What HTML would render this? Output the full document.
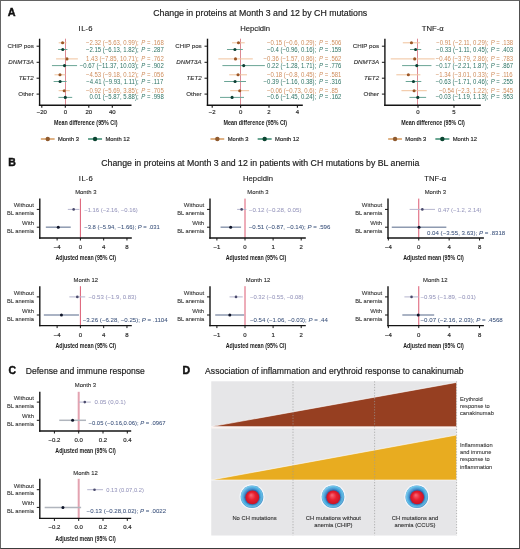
<!DOCTYPE html>
<html><head><meta charset="utf-8"><style>
html,body{margin:0;padding:0;background:#fff;}
#f{position:relative;width:520px;height:549px;overflow:hidden;background:#fff;}
#f svg{position:absolute;left:0;top:0;will-change:transform;font-family:"Liberation Sans", sans-serif;}
#bd{position:absolute;left:0;top:0;width:518px;height:547px;border:1px solid #666;border-top-color:#626262;border-right-color:#505050;border-bottom-color:#3c3c3c;}
</style></head><body><div id="f">
<svg width="520" height="549" viewBox="0 0 520 549">
<text x="7.80" y="15.80" font-size="10.8" fill="#111" font-weight="bold" stroke="#111" stroke-width="0.45">A</text>
<text x="153.20" y="15.70" font-size="9.4" fill="#1a1a1a" textLength="214.00" lengthAdjust="spacingAndGlyphs" stroke="#1a1a1a" stroke-width="0.18">Change in proteins at Month 3 and 12 by CH mutations</text>
<text x="85.55" y="30.60" font-size="7.7" text-anchor="middle" fill="#1a1a1a" stroke="#1a1a1a" stroke-width="0.12">I<tspan dx="0.6">L-6</tspan></text>
<line x1="65.50" y1="38.70" x2="65.50" y2="105.20" stroke="#dc8a93" stroke-width="1.0"/>
<line x1="39.60" y1="38.70" x2="39.60" y2="105.90" stroke="#141414" stroke-width="1.4"/>
<line x1="38.90" y1="105.20" x2="131.50" y2="105.20" stroke="#141414" stroke-width="1.4"/>
<line x1="36.60" y1="46.20" x2="39.60" y2="46.20" stroke="#141414" stroke-width="1"/>
<text x="33.80" y="48.00" font-size="6.2" text-anchor="end" fill="#303030" stroke="#303030" stroke-width="0.12">CHIP pos</text>
<line x1="36.60" y1="62.30" x2="39.60" y2="62.30" stroke="#141414" stroke-width="1"/>
<text x="33.80" y="64.10" font-size="6.2" text-anchor="end" fill="#303030" font-style="italic" stroke="#303030" stroke-width="0.12">DNMT3A</text>
<line x1="36.60" y1="78.20" x2="39.60" y2="78.20" stroke="#141414" stroke-width="1"/>
<text x="33.80" y="80.00" font-size="6.2" text-anchor="end" fill="#303030" font-style="italic" stroke="#303030" stroke-width="0.12">TET2</text>
<line x1="36.60" y1="94.10" x2="39.60" y2="94.10" stroke="#141414" stroke-width="1"/>
<text x="33.80" y="95.90" font-size="6.2" text-anchor="end" fill="#303030" stroke="#303030" stroke-width="0.12">Other</text>
<line x1="41.80" y1="105.20" x2="41.80" y2="107.80" stroke="#141414" stroke-width="1.1"/>
<text x="41.80" y="114.20" font-size="6.0" text-anchor="middle" fill="#2a2a2a" stroke="#2a2a2a" stroke-width="0.18">−20</text>
<line x1="65.30" y1="105.20" x2="65.30" y2="107.80" stroke="#141414" stroke-width="1.1"/>
<text x="65.30" y="114.20" font-size="6.0" text-anchor="middle" fill="#2a2a2a" stroke="#2a2a2a" stroke-width="0.18">0</text>
<line x1="88.80" y1="105.20" x2="88.80" y2="107.80" stroke="#141414" stroke-width="1.1"/>
<text x="88.80" y="114.20" font-size="6.0" text-anchor="middle" fill="#2a2a2a" stroke="#2a2a2a" stroke-width="0.18">20</text>
<line x1="112.30" y1="105.20" x2="112.30" y2="107.80" stroke="#141414" stroke-width="1.1"/>
<text x="112.30" y="114.20" font-size="6.0" text-anchor="middle" fill="#2a2a2a" stroke="#2a2a2a" stroke-width="0.18">40</text>
<text x="85.75" y="124.80" font-size="7.4" text-anchor="middle" fill="#1a1a1a" font-weight="bold" textLength="63.60" lengthAdjust="spacingAndGlyphs">Mean difference (95% CI)</text>
<line x1="58.68" y1="42.80" x2="66.46" y2="42.80" stroke="#f0c29c" stroke-width="1.0"/>
<circle cx="62.57" cy="42.80" r="1.55" fill="#9c5626"/>
<text x="138.60" y="44.80" font-size="6.6" text-anchor="end" fill="#cf8d5c" textLength="52.71" lengthAdjust="spacingAndGlyphs">−2.32 (−5.63, 0.99);</text>
<text x="141.30" y="44.80" font-size="6.6" fill="#cf8d5c" textLength="22.41" lengthAdjust="spacingAndGlyphs"><tspan font-style="italic">P</tspan> = .168</text>
<line x1="58.10" y1="49.50" x2="67.44" y2="49.50" stroke="#6aa596" stroke-width="1.0"/>
<circle cx="62.77" cy="49.50" r="1.55" fill="#0b3f33"/>
<text x="138.60" y="51.50" font-size="6.6" text-anchor="end" fill="#2e7465" textLength="52.71" lengthAdjust="spacingAndGlyphs">−2.15 (−6.13, 1.82);</text>
<text x="141.30" y="51.50" font-size="6.6" fill="#2e7465" textLength="22.41" lengthAdjust="spacingAndGlyphs"><tspan font-style="italic">P</tspan> = .287</text>
<line x1="56.08" y1="58.90" x2="77.88" y2="58.90" stroke="#f0c29c" stroke-width="1.0"/>
<circle cx="66.98" cy="58.90" r="1.55" fill="#9c5626"/>
<text x="138.60" y="60.90" font-size="6.6" text-anchor="end" fill="#cf8d5c" textLength="52.54" lengthAdjust="spacingAndGlyphs">1.43 (−7.85, 10.71);</text>
<text x="141.30" y="60.90" font-size="6.6" fill="#cf8d5c" textLength="22.41" lengthAdjust="spacingAndGlyphs"><tspan font-style="italic">P</tspan> = .762</text>
<line x1="51.94" y1="65.60" x2="77.09" y2="65.60" stroke="#6aa596" stroke-width="1.0"/>
<circle cx="64.51" cy="65.60" r="1.55" fill="#0b3f33"/>
<text x="138.60" y="67.60" font-size="6.6" text-anchor="end" fill="#2e7465" textLength="58.93" lengthAdjust="spacingAndGlyphs">−0.67 (−11.37, 10.03);</text>
<text x="141.30" y="67.60" font-size="6.6" fill="#2e7465" textLength="22.41" lengthAdjust="spacingAndGlyphs"><tspan font-style="italic">P</tspan> = .902</text>
<line x1="54.51" y1="74.80" x2="65.44" y2="74.80" stroke="#f0c29c" stroke-width="1.0"/>
<circle cx="59.98" cy="74.80" r="1.55" fill="#9c5626"/>
<text x="138.60" y="76.80" font-size="6.6" text-anchor="end" fill="#cf8d5c" textLength="52.71" lengthAdjust="spacingAndGlyphs">−4.53 (−9.18, 0.12);</text>
<text x="141.30" y="76.80" font-size="6.6" fill="#cf8d5c" textLength="22.41" lengthAdjust="spacingAndGlyphs"><tspan font-style="italic">P</tspan> = .056</text>
<line x1="53.63" y1="81.50" x2="66.60" y2="81.50" stroke="#6aa596" stroke-width="1.0"/>
<circle cx="60.12" cy="81.50" r="1.55" fill="#0b3f33"/>
<text x="138.60" y="83.50" font-size="6.6" text-anchor="end" fill="#2e7465" textLength="52.26" lengthAdjust="spacingAndGlyphs">−4.41 (−9.93, 1.11);</text>
<text x="141.30" y="83.50" font-size="6.6" fill="#2e7465" textLength="21.96" lengthAdjust="spacingAndGlyphs"><tspan font-style="italic">P</tspan> = .117</text>
<line x1="58.61" y1="90.70" x2="69.82" y2="90.70" stroke="#f0c29c" stroke-width="1.0"/>
<circle cx="64.22" cy="90.70" r="1.55" fill="#9c5626"/>
<text x="138.60" y="92.70" font-size="6.6" text-anchor="end" fill="#cf8d5c" textLength="52.71" lengthAdjust="spacingAndGlyphs">−0.92 (−5.69, 3.85);</text>
<text x="141.30" y="92.70" font-size="6.6" fill="#cf8d5c" textLength="22.41" lengthAdjust="spacingAndGlyphs"><tspan font-style="italic">P</tspan> = .705</text>
<line x1="58.40" y1="97.40" x2="72.21" y2="97.40" stroke="#6aa596" stroke-width="1.0"/>
<circle cx="65.31" cy="97.40" r="1.55" fill="#0b3f33"/>
<text x="138.60" y="99.40" font-size="6.6" text-anchor="end" fill="#2e7465" textLength="49.20" lengthAdjust="spacingAndGlyphs">0.01 (−5.87, 5.88);</text>
<text x="141.30" y="99.40" font-size="6.6" fill="#2e7465" textLength="22.41" lengthAdjust="spacingAndGlyphs"><tspan font-style="italic">P</tspan> = .998</text>
<line x1="40.85" y1="139.00" x2="54.65" y2="139.00" stroke="#dcaa78" stroke-width="1.8"/>
<circle cx="47.75" cy="139.00" r="2.2" fill="#8f5a2e"/>
<text x="58.05" y="141.10" font-size="5.8" fill="#2a2a2a" textLength="20.90" lengthAdjust="spacingAndGlyphs" stroke="#2a2a2a" stroke-width="0.18">Month 3</text>
<line x1="88.05" y1="139.00" x2="102.05" y2="139.00" stroke="#5a9c86" stroke-width="1.8"/>
<circle cx="95.05" cy="139.00" r="2.2" fill="#0b4531"/>
<text x="105.45" y="141.10" font-size="5.8" fill="#2a2a2a" textLength="24.30" lengthAdjust="spacingAndGlyphs" stroke="#2a2a2a" stroke-width="0.18">Month 12</text>
<text x="255.15" y="30.60" font-size="7.7" text-anchor="middle" fill="#1a1a1a" stroke="#1a1a1a" stroke-width="0.12">Hepcidin</text>
<line x1="240.50" y1="38.70" x2="240.50" y2="105.20" stroke="#dc8a93" stroke-width="1.0"/>
<line x1="207.50" y1="38.70" x2="207.50" y2="105.90" stroke="#141414" stroke-width="1.4"/>
<line x1="206.80" y1="105.20" x2="302.80" y2="105.20" stroke="#141414" stroke-width="1.4"/>
<line x1="204.50" y1="46.20" x2="207.50" y2="46.20" stroke="#141414" stroke-width="1"/>
<text x="201.70" y="48.00" font-size="6.2" text-anchor="end" fill="#303030" stroke="#303030" stroke-width="0.12">CHIP pos</text>
<line x1="204.50" y1="62.30" x2="207.50" y2="62.30" stroke="#141414" stroke-width="1"/>
<text x="201.70" y="64.10" font-size="6.2" text-anchor="end" fill="#303030" font-style="italic" stroke="#303030" stroke-width="0.12">DNMT3A</text>
<line x1="204.50" y1="78.20" x2="207.50" y2="78.20" stroke="#141414" stroke-width="1"/>
<text x="201.70" y="80.00" font-size="6.2" text-anchor="end" fill="#303030" font-style="italic" stroke="#303030" stroke-width="0.12">TET2</text>
<line x1="204.50" y1="94.10" x2="207.50" y2="94.10" stroke="#141414" stroke-width="1"/>
<text x="201.70" y="95.90" font-size="6.2" text-anchor="end" fill="#303030" stroke="#303030" stroke-width="0.12">Other</text>
<line x1="212.20" y1="105.20" x2="212.20" y2="107.80" stroke="#141414" stroke-width="1.1"/>
<text x="212.20" y="114.20" font-size="6.0" text-anchor="middle" fill="#2a2a2a" stroke="#2a2a2a" stroke-width="0.18">−2</text>
<line x1="240.60" y1="105.20" x2="240.60" y2="107.80" stroke="#141414" stroke-width="1.1"/>
<text x="240.60" y="114.20" font-size="6.0" text-anchor="middle" fill="#2a2a2a" stroke="#2a2a2a" stroke-width="0.18">0</text>
<line x1="269.00" y1="105.20" x2="269.00" y2="107.80" stroke="#141414" stroke-width="1.1"/>
<text x="269.00" y="114.20" font-size="6.0" text-anchor="middle" fill="#2a2a2a" stroke="#2a2a2a" stroke-width="0.18">2</text>
<line x1="297.40" y1="105.20" x2="297.40" y2="107.80" stroke="#141414" stroke-width="1.1"/>
<text x="297.40" y="114.20" font-size="6.0" text-anchor="middle" fill="#2a2a2a" stroke="#2a2a2a" stroke-width="0.18">4</text>
<text x="255.35" y="124.80" font-size="7.4" text-anchor="middle" fill="#1a1a1a" font-weight="bold" textLength="63.60" lengthAdjust="spacingAndGlyphs">Mean difference (95% CI)</text>
<line x1="232.08" y1="42.80" x2="244.72" y2="42.80" stroke="#f0c29c" stroke-width="1.0"/>
<circle cx="238.47" cy="42.80" r="1.55" fill="#9c5626"/>
<text x="316.30" y="44.80" font-size="6.6" text-anchor="end" fill="#cf8d5c" textLength="49.37" lengthAdjust="spacingAndGlyphs">−0.15 (−0.6, 0.29);</text>
<text x="319.00" y="44.80" font-size="6.6" fill="#cf8d5c" textLength="22.41" lengthAdjust="spacingAndGlyphs"><tspan font-style="italic">P</tspan> = .506</text>
<line x1="226.97" y1="49.50" x2="242.87" y2="49.50" stroke="#6aa596" stroke-width="1.0"/>
<circle cx="234.92" cy="49.50" r="1.55" fill="#0b3f33"/>
<text x="316.30" y="51.50" font-size="6.6" text-anchor="end" fill="#2e7465" textLength="49.37" lengthAdjust="spacingAndGlyphs">−0.4 (−0.96, 0.16);</text>
<text x="319.00" y="51.50" font-size="6.6" fill="#2e7465" textLength="22.41" lengthAdjust="spacingAndGlyphs"><tspan font-style="italic">P</tspan> = .159</text>
<line x1="218.31" y1="58.90" x2="252.81" y2="58.90" stroke="#f0c29c" stroke-width="1.0"/>
<circle cx="235.49" cy="58.90" r="1.55" fill="#9c5626"/>
<text x="316.30" y="60.90" font-size="6.6" text-anchor="end" fill="#cf8d5c" textLength="52.71" lengthAdjust="spacingAndGlyphs">−0.36 (−1.57, 0.86);</text>
<text x="319.00" y="60.90" font-size="6.6" fill="#cf8d5c" textLength="22.41" lengthAdjust="spacingAndGlyphs"><tspan font-style="italic">P</tspan> = .562</text>
<line x1="222.42" y1="65.60" x2="264.88" y2="65.60" stroke="#6aa596" stroke-width="1.0"/>
<circle cx="243.72" cy="65.60" r="1.55" fill="#0b3f33"/>
<text x="316.30" y="67.60" font-size="6.6" text-anchor="end" fill="#2e7465" textLength="49.20" lengthAdjust="spacingAndGlyphs">0.22 (−1.28, 1.71);</text>
<text x="319.00" y="67.60" font-size="6.6" fill="#2e7465" textLength="22.41" lengthAdjust="spacingAndGlyphs"><tspan font-style="italic">P</tspan> = .776</text>
<line x1="229.24" y1="74.80" x2="246.99" y2="74.80" stroke="#f0c29c" stroke-width="1.0"/>
<circle cx="238.04" cy="74.80" r="1.55" fill="#9c5626"/>
<text x="316.30" y="76.80" font-size="6.6" text-anchor="end" fill="#cf8d5c" textLength="49.37" lengthAdjust="spacingAndGlyphs">−0.18 (−0.8, 0.45);</text>
<text x="319.00" y="76.80" font-size="6.6" fill="#cf8d5c" textLength="22.41" lengthAdjust="spacingAndGlyphs"><tspan font-style="italic">P</tspan> = .581</text>
<line x1="224.13" y1="81.50" x2="246.00" y2="81.50" stroke="#6aa596" stroke-width="1.0"/>
<circle cx="235.06" cy="81.50" r="1.55" fill="#0b3f33"/>
<text x="316.30" y="83.50" font-size="6.6" text-anchor="end" fill="#2e7465" textLength="52.71" lengthAdjust="spacingAndGlyphs">−0.39 (−1.16, 0.38);</text>
<text x="319.00" y="83.50" font-size="6.6" fill="#2e7465" textLength="22.41" lengthAdjust="spacingAndGlyphs"><tspan font-style="italic">P</tspan> = .316</text>
<line x1="230.23" y1="90.70" x2="249.12" y2="90.70" stroke="#f0c29c" stroke-width="1.0"/>
<circle cx="239.75" cy="90.70" r="1.55" fill="#9c5626"/>
<text x="316.30" y="92.70" font-size="6.6" text-anchor="end" fill="#cf8d5c" textLength="49.37" lengthAdjust="spacingAndGlyphs">−0.06 (−0.73, 0.6);</text>
<text x="319.00" y="92.70" font-size="6.6" fill="#cf8d5c" textLength="19.07" lengthAdjust="spacingAndGlyphs"><tspan font-style="italic">P</tspan> = .85</text>
<line x1="220.01" y1="97.40" x2="244.01" y2="97.40" stroke="#6aa596" stroke-width="1.0"/>
<circle cx="232.08" cy="97.40" r="1.55" fill="#0b3f33"/>
<text x="316.30" y="99.40" font-size="6.6" text-anchor="end" fill="#2e7465" textLength="49.37" lengthAdjust="spacingAndGlyphs">−0.6 (−1.45, 0.24);</text>
<text x="319.00" y="99.40" font-size="6.6" fill="#2e7465" textLength="22.41" lengthAdjust="spacingAndGlyphs"><tspan font-style="italic">P</tspan> = .162</text>
<line x1="210.45" y1="139.00" x2="224.25" y2="139.00" stroke="#dcaa78" stroke-width="1.8"/>
<circle cx="217.35" cy="139.00" r="2.2" fill="#8f5a2e"/>
<text x="227.65" y="141.10" font-size="5.8" fill="#2a2a2a" textLength="20.90" lengthAdjust="spacingAndGlyphs" stroke="#2a2a2a" stroke-width="0.18">Month 3</text>
<line x1="257.65" y1="139.00" x2="271.65" y2="139.00" stroke="#5a9c86" stroke-width="1.8"/>
<circle cx="264.65" cy="139.00" r="2.2" fill="#0b4531"/>
<text x="275.05" y="141.10" font-size="5.8" fill="#2a2a2a" textLength="24.30" lengthAdjust="spacingAndGlyphs" stroke="#2a2a2a" stroke-width="0.18">Month 12</text>
<text x="432.85" y="30.60" font-size="7.7" text-anchor="middle" fill="#1a1a1a" stroke="#1a1a1a" stroke-width="0.12">TNF-α</text>
<line x1="417.50" y1="38.70" x2="417.50" y2="105.20" stroke="#dc8a93" stroke-width="1.0"/>
<line x1="384.90" y1="38.70" x2="384.90" y2="105.90" stroke="#141414" stroke-width="1.4"/>
<line x1="384.20" y1="105.20" x2="480.80" y2="105.20" stroke="#141414" stroke-width="1.4"/>
<line x1="381.90" y1="46.20" x2="384.90" y2="46.20" stroke="#141414" stroke-width="1"/>
<text x="379.10" y="48.00" font-size="6.2" text-anchor="end" fill="#303030" stroke="#303030" stroke-width="0.12">CHIP pos</text>
<line x1="381.90" y1="62.30" x2="384.90" y2="62.30" stroke="#141414" stroke-width="1"/>
<text x="379.10" y="64.10" font-size="6.2" text-anchor="end" fill="#303030" font-style="italic" stroke="#303030" stroke-width="0.12">DNMT3A</text>
<line x1="381.90" y1="78.20" x2="384.90" y2="78.20" stroke="#141414" stroke-width="1"/>
<text x="379.10" y="80.00" font-size="6.2" text-anchor="end" fill="#303030" font-style="italic" stroke="#303030" stroke-width="0.12">TET2</text>
<line x1="381.90" y1="94.10" x2="384.90" y2="94.10" stroke="#141414" stroke-width="1"/>
<text x="379.10" y="95.90" font-size="6.2" text-anchor="end" fill="#303030" stroke="#303030" stroke-width="0.12">Other</text>
<line x1="418.00" y1="105.20" x2="418.00" y2="107.80" stroke="#141414" stroke-width="1.1"/>
<text x="418.00" y="114.20" font-size="6.0" text-anchor="middle" fill="#2a2a2a" stroke="#2a2a2a" stroke-width="0.18">0</text>
<line x1="454.00" y1="105.20" x2="454.00" y2="107.80" stroke="#141414" stroke-width="1.1"/>
<text x="454.00" y="114.20" font-size="6.0" text-anchor="middle" fill="#2a2a2a" stroke="#2a2a2a" stroke-width="0.18">5</text>
<text x="433.05" y="124.80" font-size="7.4" text-anchor="middle" fill="#1a1a1a" font-weight="bold" textLength="63.60" lengthAdjust="spacingAndGlyphs">Mean difference (95% CI)</text>
<line x1="402.81" y1="42.80" x2="420.09" y2="42.80" stroke="#f0c29c" stroke-width="1.0"/>
<circle cx="411.45" cy="42.80" r="1.55" fill="#9c5626"/>
<text x="488.40" y="44.80" font-size="6.6" text-anchor="end" fill="#cf8d5c" textLength="52.26" lengthAdjust="spacingAndGlyphs">−0.91 (−2.11, 0.29);</text>
<text x="490.70" y="44.80" font-size="6.6" fill="#cf8d5c" textLength="22.41" lengthAdjust="spacingAndGlyphs"><tspan font-style="italic">P</tspan> = .138</text>
<line x1="410.01" y1="49.50" x2="421.24" y2="49.50" stroke="#6aa596" stroke-width="1.0"/>
<circle cx="415.62" cy="49.50" r="1.55" fill="#0b3f33"/>
<text x="488.40" y="51.50" font-size="6.6" text-anchor="end" fill="#2e7465" textLength="52.26" lengthAdjust="spacingAndGlyphs">−0.33 (−1.11, 0.45);</text>
<text x="490.70" y="51.50" font-size="6.6" fill="#2e7465" textLength="22.41" lengthAdjust="spacingAndGlyphs"><tspan font-style="italic">P</tspan> = .403</text>
<line x1="390.71" y1="58.90" x2="434.69" y2="58.90" stroke="#f0c29c" stroke-width="1.0"/>
<circle cx="414.69" cy="58.90" r="1.55" fill="#9c5626"/>
<text x="488.40" y="60.90" font-size="6.6" text-anchor="end" fill="#cf8d5c" textLength="52.71" lengthAdjust="spacingAndGlyphs">−0.46 (−3.79, 2.86);</text>
<text x="490.70" y="60.90" font-size="6.6" fill="#cf8d5c" textLength="22.41" lengthAdjust="spacingAndGlyphs"><tspan font-style="italic">P</tspan> = .783</text>
<line x1="402.09" y1="65.60" x2="431.46" y2="65.60" stroke="#6aa596" stroke-width="1.0"/>
<circle cx="416.78" cy="65.60" r="1.55" fill="#0b3f33"/>
<text x="488.40" y="67.60" font-size="6.6" text-anchor="end" fill="#2e7465" textLength="52.71" lengthAdjust="spacingAndGlyphs">−0.17 (−2.21, 1.87);</text>
<text x="490.70" y="67.60" font-size="6.6" fill="#2e7465" textLength="22.41" lengthAdjust="spacingAndGlyphs"><tspan font-style="italic">P</tspan> = .867</text>
<line x1="396.33" y1="74.80" x2="420.38" y2="74.80" stroke="#f0c29c" stroke-width="1.0"/>
<circle cx="408.35" cy="74.80" r="1.55" fill="#9c5626"/>
<text x="488.40" y="76.80" font-size="6.6" text-anchor="end" fill="#cf8d5c" textLength="52.71" lengthAdjust="spacingAndGlyphs">−1.34 (−3.01, 0.33);</text>
<text x="490.70" y="76.80" font-size="6.6" fill="#cf8d5c" textLength="21.96" lengthAdjust="spacingAndGlyphs"><tspan font-style="italic">P</tspan> = .116</text>
<line x1="405.69" y1="81.50" x2="421.31" y2="81.50" stroke="#6aa596" stroke-width="1.0"/>
<circle cx="413.46" cy="81.50" r="1.55" fill="#0b3f33"/>
<text x="488.40" y="83.50" font-size="6.6" text-anchor="end" fill="#2e7465" textLength="52.71" lengthAdjust="spacingAndGlyphs">−0.63 (−1.71, 0.46);</text>
<text x="490.70" y="83.50" font-size="6.6" fill="#2e7465" textLength="22.41" lengthAdjust="spacingAndGlyphs"><tspan font-style="italic">P</tspan> = .255</text>
<line x1="401.44" y1="90.70" x2="426.78" y2="90.70" stroke="#f0c29c" stroke-width="1.0"/>
<circle cx="414.11" cy="90.70" r="1.55" fill="#9c5626"/>
<text x="488.40" y="92.70" font-size="6.6" text-anchor="end" fill="#cf8d5c" textLength="49.37" lengthAdjust="spacingAndGlyphs">−0.54 (−2.3, 1.22);</text>
<text x="490.70" y="92.70" font-size="6.6" fill="#cf8d5c" textLength="22.41" lengthAdjust="spacingAndGlyphs"><tspan font-style="italic">P</tspan> = .545</text>
<line x1="409.43" y1="97.40" x2="426.14" y2="97.40" stroke="#6aa596" stroke-width="1.0"/>
<circle cx="417.78" cy="97.40" r="1.55" fill="#0b3f33"/>
<text x="488.40" y="99.40" font-size="6.6" text-anchor="end" fill="#2e7465" textLength="52.71" lengthAdjust="spacingAndGlyphs">−0.03 (−1.19, 1.13);</text>
<text x="490.70" y="99.40" font-size="6.6" fill="#2e7465" textLength="22.41" lengthAdjust="spacingAndGlyphs"><tspan font-style="italic">P</tspan> = .953</text>
<line x1="388.15" y1="139.00" x2="401.95" y2="139.00" stroke="#dcaa78" stroke-width="1.8"/>
<circle cx="395.05" cy="139.00" r="2.2" fill="#8f5a2e"/>
<text x="405.35" y="141.10" font-size="5.8" fill="#2a2a2a" textLength="20.90" lengthAdjust="spacingAndGlyphs" stroke="#2a2a2a" stroke-width="0.18">Month 3</text>
<line x1="435.35" y1="139.00" x2="449.35" y2="139.00" stroke="#5a9c86" stroke-width="1.8"/>
<circle cx="442.35" cy="139.00" r="2.2" fill="#0b4531"/>
<text x="452.75" y="141.10" font-size="5.8" fill="#2a2a2a" textLength="24.30" lengthAdjust="spacingAndGlyphs" stroke="#2a2a2a" stroke-width="0.18">Month 12</text>
<text x="8.30" y="166.30" font-size="10.5" fill="#111" font-weight="bold" stroke="#111" stroke-width="0.45">B</text>
<text x="101.30" y="166.30" font-size="9.4" fill="#1a1a1a" textLength="318.00" lengthAdjust="spacingAndGlyphs" stroke="#1a1a1a" stroke-width="0.18">Change in proteins at Month 3 and 12 in patients with CH mutations by BL anemia</text>
<text x="85.80" y="181.30" font-size="7.7" text-anchor="middle" fill="#1a1a1a" stroke="#1a1a1a" stroke-width="0.12">I<tspan dx="0.6">L-6</tspan></text>
<text x="85.80" y="194.20" font-size="5.9" text-anchor="middle" fill="#2a2a2a" stroke="#2a2a2a" stroke-width="0.1">Month 3</text>
<line x1="80.40" y1="198.60" x2="80.40" y2="238.00" stroke="#dc5a72" stroke-width="1.0"/>
<line x1="39.80" y1="198.60" x2="39.80" y2="238.70" stroke="#141414" stroke-width="1.4"/>
<line x1="39.10" y1="238.00" x2="131.80" y2="238.00" stroke="#141414" stroke-width="1.4"/>
<line x1="36.80" y1="209.40" x2="39.80" y2="209.40" stroke="#141414" stroke-width="1"/>
<line x1="36.80" y1="227.20" x2="39.80" y2="227.20" stroke="#141414" stroke-width="1"/>
<text x="34.00" y="207.40" font-size="6.0" text-anchor="end" fill="#353535" stroke="#353535" stroke-width="0.1">Without</text>
<text x="34.00" y="215.00" font-size="6.0" text-anchor="end" fill="#353535" textLength="27.00" lengthAdjust="spacingAndGlyphs" stroke="#353535" stroke-width="0.1">BL anemia</text>
<text x="34.00" y="225.20" font-size="6.0" text-anchor="end" fill="#353535" stroke="#353535" stroke-width="0.1">With</text>
<text x="34.00" y="232.80" font-size="6.0" text-anchor="end" fill="#353535" textLength="27.00" lengthAdjust="spacingAndGlyphs" stroke="#353535" stroke-width="0.1">BL anemia</text>
<line x1="57.12" y1="238.00" x2="57.12" y2="240.50" stroke="#141414" stroke-width="1"/>
<text x="57.12" y="249.00" font-size="6.0" text-anchor="middle" fill="#2a2a2a" stroke="#2a2a2a" stroke-width="0.18">−4</text>
<line x1="80.40" y1="238.00" x2="80.40" y2="240.50" stroke="#141414" stroke-width="1"/>
<text x="80.40" y="249.00" font-size="6.0" text-anchor="middle" fill="#2a2a2a" stroke="#2a2a2a" stroke-width="0.18">0</text>
<line x1="103.68" y1="238.00" x2="103.68" y2="240.50" stroke="#141414" stroke-width="1"/>
<text x="103.68" y="249.00" font-size="6.0" text-anchor="middle" fill="#2a2a2a" stroke="#2a2a2a" stroke-width="0.18">4</text>
<line x1="126.96" y1="238.00" x2="126.96" y2="240.50" stroke="#141414" stroke-width="1"/>
<text x="126.96" y="249.00" font-size="6.0" text-anchor="middle" fill="#2a2a2a" stroke="#2a2a2a" stroke-width="0.18">8</text>
<line x1="67.83" y1="209.40" x2="79.47" y2="209.40" stroke="#b6b6ce" stroke-width="1.0"/>
<circle cx="73.65" cy="209.40" r="1.3" fill="#4a4a6c"/>
<text x="84.20" y="211.50" font-size="5.9" fill="#9696bc" stroke="#9696bc" stroke-width="0.05">−1.16 (−2.16, −0.16)</text>
<line x1="45.83" y1="227.20" x2="70.74" y2="227.20" stroke="#8e9ab0" stroke-width="1.5"/>
<circle cx="58.28" cy="227.20" r="1.5" fill="#0e1428"/>
<text x="84.20" y="229.30" font-size="5.9" fill="#39507a" stroke="#39507a" stroke-width="0.05">−3.8 (−5.94, −1.66); <tspan font-style="italic">P</tspan> = .031</text>
<text x="85.80" y="260.20" font-size="7.4" text-anchor="middle" fill="#1a1a1a" font-weight="bold" textLength="60.60" lengthAdjust="spacingAndGlyphs">Adjusted mean (95% CI)</text>
<text x="85.80" y="282.30" font-size="5.9" text-anchor="middle" fill="#2a2a2a" stroke="#2a2a2a" stroke-width="0.1">Month 12</text>
<line x1="80.40" y1="286.20" x2="80.40" y2="325.60" stroke="#dc5a72" stroke-width="1.0"/>
<line x1="39.80" y1="286.20" x2="39.80" y2="326.30" stroke="#141414" stroke-width="1.4"/>
<line x1="39.10" y1="325.60" x2="131.80" y2="325.60" stroke="#141414" stroke-width="1.4"/>
<line x1="36.80" y1="296.90" x2="39.80" y2="296.90" stroke="#141414" stroke-width="1"/>
<line x1="36.80" y1="315.00" x2="39.80" y2="315.00" stroke="#141414" stroke-width="1"/>
<text x="34.00" y="294.90" font-size="6.0" text-anchor="end" fill="#353535" stroke="#353535" stroke-width="0.1">Without</text>
<text x="34.00" y="302.50" font-size="6.0" text-anchor="end" fill="#353535" textLength="27.00" lengthAdjust="spacingAndGlyphs" stroke="#353535" stroke-width="0.1">BL anemia</text>
<text x="34.00" y="313.00" font-size="6.0" text-anchor="end" fill="#353535" stroke="#353535" stroke-width="0.1">With</text>
<text x="34.00" y="320.60" font-size="6.0" text-anchor="end" fill="#353535" textLength="27.00" lengthAdjust="spacingAndGlyphs" stroke="#353535" stroke-width="0.1">BL anemia</text>
<line x1="57.12" y1="325.60" x2="57.12" y2="328.10" stroke="#141414" stroke-width="1"/>
<text x="57.12" y="336.60" font-size="6.0" text-anchor="middle" fill="#2a2a2a" stroke="#2a2a2a" stroke-width="0.18">−4</text>
<line x1="80.40" y1="325.60" x2="80.40" y2="328.10" stroke="#141414" stroke-width="1"/>
<text x="80.40" y="336.60" font-size="6.0" text-anchor="middle" fill="#2a2a2a" stroke="#2a2a2a" stroke-width="0.18">0</text>
<line x1="103.68" y1="325.60" x2="103.68" y2="328.10" stroke="#141414" stroke-width="1"/>
<text x="103.68" y="336.60" font-size="6.0" text-anchor="middle" fill="#2a2a2a" stroke="#2a2a2a" stroke-width="0.18">4</text>
<line x1="126.96" y1="325.60" x2="126.96" y2="328.10" stroke="#141414" stroke-width="1"/>
<text x="126.96" y="336.60" font-size="6.0" text-anchor="middle" fill="#2a2a2a" stroke="#2a2a2a" stroke-width="0.18">8</text>
<line x1="69.34" y1="296.90" x2="85.23" y2="296.90" stroke="#b6b6ce" stroke-width="1.0"/>
<circle cx="77.32" cy="296.90" r="1.3" fill="#4a4a6c"/>
<text x="88.50" y="299.00" font-size="5.9" fill="#9696bc" textLength="48.00" lengthAdjust="spacingAndGlyphs" stroke="#9696bc" stroke-width="0.05">−0.53 (−1.9, 0.83)</text>
<line x1="43.85" y1="315.00" x2="78.95" y2="315.00" stroke="#8e9ab0" stroke-width="1.5"/>
<circle cx="61.43" cy="315.00" r="1.5" fill="#0e1428"/>
<text x="82.70" y="321.90" font-size="5.9" fill="#39507a" textLength="84.90" lengthAdjust="spacingAndGlyphs" stroke="#39507a" stroke-width="0.05">−3.26 (−6.28, −0.25); <tspan font-style="italic">P</tspan> = .1104</text>
<text x="85.80" y="347.80" font-size="7.4" text-anchor="middle" fill="#1a1a1a" font-weight="bold" textLength="60.60" lengthAdjust="spacingAndGlyphs">Adjusted mean (95% CI)</text>
<text x="258.00" y="181.30" font-size="7.7" text-anchor="middle" fill="#1a1a1a" stroke="#1a1a1a" stroke-width="0.12">Hepcidin</text>
<text x="258.00" y="194.20" font-size="5.9" text-anchor="middle" fill="#2a2a2a" stroke="#2a2a2a" stroke-width="0.1">Month 3</text>
<line x1="245.00" y1="198.60" x2="245.00" y2="238.00" stroke="#dc5a72" stroke-width="1.0"/>
<line x1="210.00" y1="198.60" x2="210.00" y2="238.70" stroke="#141414" stroke-width="1.4"/>
<line x1="209.30" y1="238.00" x2="305.80" y2="238.00" stroke="#141414" stroke-width="1.4"/>
<line x1="207.00" y1="209.40" x2="210.00" y2="209.40" stroke="#141414" stroke-width="1"/>
<line x1="207.00" y1="227.20" x2="210.00" y2="227.20" stroke="#141414" stroke-width="1"/>
<text x="204.20" y="207.40" font-size="6.0" text-anchor="end" fill="#353535" stroke="#353535" stroke-width="0.1">Without</text>
<text x="204.20" y="215.00" font-size="6.0" text-anchor="end" fill="#353535" textLength="27.00" lengthAdjust="spacingAndGlyphs" stroke="#353535" stroke-width="0.1">BL anemia</text>
<text x="204.20" y="225.20" font-size="6.0" text-anchor="end" fill="#353535" stroke="#353535" stroke-width="0.1">With</text>
<text x="204.20" y="232.80" font-size="6.0" text-anchor="end" fill="#353535" textLength="27.00" lengthAdjust="spacingAndGlyphs" stroke="#353535" stroke-width="0.1">BL anemia</text>
<line x1="216.90" y1="238.00" x2="216.90" y2="240.50" stroke="#141414" stroke-width="1"/>
<text x="216.90" y="249.00" font-size="6.0" text-anchor="middle" fill="#2a2a2a" stroke="#2a2a2a" stroke-width="0.18">−1</text>
<line x1="245.00" y1="238.00" x2="245.00" y2="240.50" stroke="#141414" stroke-width="1"/>
<text x="245.00" y="249.00" font-size="6.0" text-anchor="middle" fill="#2a2a2a" stroke="#2a2a2a" stroke-width="0.18">0</text>
<line x1="273.10" y1="238.00" x2="273.10" y2="240.50" stroke="#141414" stroke-width="1"/>
<text x="273.10" y="249.00" font-size="6.0" text-anchor="middle" fill="#2a2a2a" stroke="#2a2a2a" stroke-width="0.18">1</text>
<line x1="301.20" y1="238.00" x2="301.20" y2="240.50" stroke="#141414" stroke-width="1"/>
<text x="301.20" y="249.00" font-size="6.0" text-anchor="middle" fill="#2a2a2a" stroke="#2a2a2a" stroke-width="0.18">2</text>
<line x1="237.13" y1="209.40" x2="246.41" y2="209.40" stroke="#b6b6ce" stroke-width="1.0"/>
<circle cx="241.63" cy="209.40" r="1.3" fill="#4a4a6c"/>
<text x="248.80" y="211.50" font-size="5.9" fill="#9696bc" textLength="52.80" lengthAdjust="spacingAndGlyphs" stroke="#9696bc" stroke-width="0.05">−0.12 (−0.28, 0.05)</text>
<line x1="220.55" y1="227.20" x2="241.07" y2="227.20" stroke="#8e9ab0" stroke-width="1.5"/>
<circle cx="230.67" cy="227.20" r="1.5" fill="#0e1428"/>
<text x="248.80" y="229.30" font-size="5.9" fill="#39507a" textLength="81.55" lengthAdjust="spacingAndGlyphs" stroke="#39507a" stroke-width="0.05">−0.51 (−0.87, −0.14); <tspan font-style="italic">P</tspan> = .596</text>
<text x="256.00" y="260.20" font-size="7.4" text-anchor="middle" fill="#1a1a1a" font-weight="bold" textLength="60.60" lengthAdjust="spacingAndGlyphs">Adjusted mean (95% CI)</text>
<text x="258.00" y="282.30" font-size="5.9" text-anchor="middle" fill="#2a2a2a" stroke="#2a2a2a" stroke-width="0.1">Month 12</text>
<line x1="245.00" y1="286.20" x2="245.00" y2="325.60" stroke="#dc5a72" stroke-width="1.0"/>
<line x1="210.00" y1="286.20" x2="210.00" y2="326.30" stroke="#141414" stroke-width="1.4"/>
<line x1="209.30" y1="325.60" x2="305.80" y2="325.60" stroke="#141414" stroke-width="1.4"/>
<line x1="207.00" y1="296.90" x2="210.00" y2="296.90" stroke="#141414" stroke-width="1"/>
<line x1="207.00" y1="315.00" x2="210.00" y2="315.00" stroke="#141414" stroke-width="1"/>
<text x="204.20" y="294.90" font-size="6.0" text-anchor="end" fill="#353535" stroke="#353535" stroke-width="0.1">Without</text>
<text x="204.20" y="302.50" font-size="6.0" text-anchor="end" fill="#353535" textLength="27.00" lengthAdjust="spacingAndGlyphs" stroke="#353535" stroke-width="0.1">BL anemia</text>
<text x="204.20" y="313.00" font-size="6.0" text-anchor="end" fill="#353535" stroke="#353535" stroke-width="0.1">With</text>
<text x="204.20" y="320.60" font-size="6.0" text-anchor="end" fill="#353535" textLength="27.00" lengthAdjust="spacingAndGlyphs" stroke="#353535" stroke-width="0.1">BL anemia</text>
<line x1="216.90" y1="325.60" x2="216.90" y2="328.10" stroke="#141414" stroke-width="1"/>
<text x="216.90" y="336.60" font-size="6.0" text-anchor="middle" fill="#2a2a2a" stroke="#2a2a2a" stroke-width="0.18">−1</text>
<line x1="245.00" y1="325.60" x2="245.00" y2="328.10" stroke="#141414" stroke-width="1"/>
<text x="245.00" y="336.60" font-size="6.0" text-anchor="middle" fill="#2a2a2a" stroke="#2a2a2a" stroke-width="0.18">0</text>
<line x1="273.10" y1="325.60" x2="273.10" y2="328.10" stroke="#141414" stroke-width="1"/>
<text x="273.10" y="336.60" font-size="6.0" text-anchor="middle" fill="#2a2a2a" stroke="#2a2a2a" stroke-width="0.18">1</text>
<line x1="301.20" y1="325.60" x2="301.20" y2="328.10" stroke="#141414" stroke-width="1"/>
<text x="301.20" y="336.60" font-size="6.0" text-anchor="middle" fill="#2a2a2a" stroke="#2a2a2a" stroke-width="0.18">2</text>
<line x1="229.54" y1="296.90" x2="242.75" y2="296.90" stroke="#b6b6ce" stroke-width="1.0"/>
<circle cx="236.01" cy="296.90" r="1.3" fill="#4a4a6c"/>
<text x="250.00" y="299.00" font-size="5.9" fill="#9696bc" stroke="#9696bc" stroke-width="0.05">−0.32 (−0.55, −0.08)</text>
<line x1="215.21" y1="315.00" x2="244.16" y2="315.00" stroke="#8e9ab0" stroke-width="1.5"/>
<circle cx="229.83" cy="315.00" r="1.5" fill="#0e1428"/>
<text x="250.00" y="322.10" font-size="5.9" fill="#39507a" textLength="77.80" lengthAdjust="spacingAndGlyphs" stroke="#39507a" stroke-width="0.05">−0.54 (−1.06, −0.03); <tspan font-style="italic">P</tspan> = .44</text>
<text x="256.00" y="347.80" font-size="7.4" text-anchor="middle" fill="#1a1a1a" font-weight="bold" textLength="60.60" lengthAdjust="spacingAndGlyphs">Adjusted mean (95% CI)</text>
<text x="435.35" y="181.30" font-size="7.7" text-anchor="middle" fill="#1a1a1a" stroke="#1a1a1a" stroke-width="0.12">TNF-α</text>
<text x="435.35" y="194.20" font-size="5.9" text-anchor="middle" fill="#2a2a2a" stroke="#2a2a2a" stroke-width="0.1">Month 3</text>
<line x1="418.75" y1="198.60" x2="418.75" y2="238.00" stroke="#dc5a72" stroke-width="1.0"/>
<line x1="388.00" y1="198.60" x2="388.00" y2="238.70" stroke="#141414" stroke-width="1.4"/>
<line x1="387.30" y1="238.00" x2="483.90" y2="238.00" stroke="#141414" stroke-width="1.4"/>
<line x1="385.00" y1="209.40" x2="388.00" y2="209.40" stroke="#141414" stroke-width="1"/>
<line x1="385.00" y1="227.20" x2="388.00" y2="227.20" stroke="#141414" stroke-width="1"/>
<text x="382.20" y="207.40" font-size="6.0" text-anchor="end" fill="#353535" stroke="#353535" stroke-width="0.1">Without</text>
<text x="382.20" y="215.00" font-size="6.0" text-anchor="end" fill="#353535" textLength="27.00" lengthAdjust="spacingAndGlyphs" stroke="#353535" stroke-width="0.1">BL anemia</text>
<text x="382.20" y="225.20" font-size="6.0" text-anchor="end" fill="#353535" stroke="#353535" stroke-width="0.1">With</text>
<text x="382.20" y="232.80" font-size="6.0" text-anchor="end" fill="#353535" textLength="27.00" lengthAdjust="spacingAndGlyphs" stroke="#353535" stroke-width="0.1">BL anemia</text>
<line x1="388.35" y1="238.00" x2="388.35" y2="240.50" stroke="#141414" stroke-width="1"/>
<text x="388.35" y="249.00" font-size="6.0" text-anchor="middle" fill="#2a2a2a" stroke="#2a2a2a" stroke-width="0.18">−4</text>
<line x1="418.75" y1="238.00" x2="418.75" y2="240.50" stroke="#141414" stroke-width="1"/>
<text x="418.75" y="249.00" font-size="6.0" text-anchor="middle" fill="#2a2a2a" stroke="#2a2a2a" stroke-width="0.18">0</text>
<line x1="449.15" y1="238.00" x2="449.15" y2="240.50" stroke="#141414" stroke-width="1"/>
<text x="449.15" y="249.00" font-size="6.0" text-anchor="middle" fill="#2a2a2a" stroke="#2a2a2a" stroke-width="0.18">4</text>
<line x1="479.55" y1="238.00" x2="479.55" y2="240.50" stroke="#141414" stroke-width="1"/>
<text x="479.55" y="249.00" font-size="6.0" text-anchor="middle" fill="#2a2a2a" stroke="#2a2a2a" stroke-width="0.18">8</text>
<line x1="409.63" y1="209.40" x2="435.01" y2="209.40" stroke="#b6b6ce" stroke-width="1.0"/>
<circle cx="422.32" cy="209.40" r="1.3" fill="#4a4a6c"/>
<text x="438.00" y="211.50" font-size="5.9" fill="#9696bc" stroke="#9696bc" stroke-width="0.05">0.47 (−1.2, 2.14)</text>
<line x1="391.77" y1="227.20" x2="446.34" y2="227.20" stroke="#8e9ab0" stroke-width="1.5"/>
<circle cx="419.05" cy="227.20" r="1.5" fill="#0e1428"/>
<text x="427.00" y="234.60" font-size="5.9" fill="#39507a" textLength="78.30" lengthAdjust="spacingAndGlyphs" stroke="#39507a" stroke-width="0.05">0.04 (−3.55, 3.63); <tspan font-style="italic">P</tspan> = .8318</text>
<text x="433.50" y="260.20" font-size="7.4" text-anchor="middle" fill="#1a1a1a" font-weight="bold" textLength="60.60" lengthAdjust="spacingAndGlyphs">Adjusted mean (95% CI)</text>
<text x="435.35" y="282.30" font-size="5.9" text-anchor="middle" fill="#2a2a2a" stroke="#2a2a2a" stroke-width="0.1">Month 12</text>
<line x1="418.75" y1="286.20" x2="418.75" y2="325.60" stroke="#dc5a72" stroke-width="1.0"/>
<line x1="388.00" y1="286.20" x2="388.00" y2="326.30" stroke="#141414" stroke-width="1.4"/>
<line x1="387.30" y1="325.60" x2="483.90" y2="325.60" stroke="#141414" stroke-width="1.4"/>
<line x1="385.00" y1="296.90" x2="388.00" y2="296.90" stroke="#141414" stroke-width="1"/>
<line x1="385.00" y1="315.00" x2="388.00" y2="315.00" stroke="#141414" stroke-width="1"/>
<text x="382.20" y="294.90" font-size="6.0" text-anchor="end" fill="#353535" stroke="#353535" stroke-width="0.1">Without</text>
<text x="382.20" y="302.50" font-size="6.0" text-anchor="end" fill="#353535" textLength="27.00" lengthAdjust="spacingAndGlyphs" stroke="#353535" stroke-width="0.1">BL anemia</text>
<text x="382.20" y="313.00" font-size="6.0" text-anchor="end" fill="#353535" stroke="#353535" stroke-width="0.1">With</text>
<text x="382.20" y="320.60" font-size="6.0" text-anchor="end" fill="#353535" textLength="27.00" lengthAdjust="spacingAndGlyphs" stroke="#353535" stroke-width="0.1">BL anemia</text>
<line x1="388.35" y1="325.60" x2="388.35" y2="328.10" stroke="#141414" stroke-width="1"/>
<text x="388.35" y="336.60" font-size="6.0" text-anchor="middle" fill="#2a2a2a" stroke="#2a2a2a" stroke-width="0.18">−4</text>
<line x1="418.75" y1="325.60" x2="418.75" y2="328.10" stroke="#141414" stroke-width="1"/>
<text x="418.75" y="336.60" font-size="6.0" text-anchor="middle" fill="#2a2a2a" stroke="#2a2a2a" stroke-width="0.18">0</text>
<line x1="449.15" y1="325.60" x2="449.15" y2="328.10" stroke="#141414" stroke-width="1"/>
<text x="449.15" y="336.60" font-size="6.0" text-anchor="middle" fill="#2a2a2a" stroke="#2a2a2a" stroke-width="0.18">4</text>
<line x1="479.55" y1="325.60" x2="479.55" y2="328.10" stroke="#141414" stroke-width="1"/>
<text x="479.55" y="336.60" font-size="6.0" text-anchor="middle" fill="#2a2a2a" stroke="#2a2a2a" stroke-width="0.18">8</text>
<line x1="404.39" y1="296.90" x2="418.67" y2="296.90" stroke="#b6b6ce" stroke-width="1.0"/>
<circle cx="411.53" cy="296.90" r="1.3" fill="#4a4a6c"/>
<text x="420.50" y="299.00" font-size="5.9" fill="#9696bc" textLength="55.30" lengthAdjust="spacingAndGlyphs" stroke="#9696bc" stroke-width="0.05">−0.95 (−1.89, −0.01)</text>
<line x1="402.33" y1="315.00" x2="434.18" y2="315.00" stroke="#8e9ab0" stroke-width="1.5"/>
<circle cx="418.22" cy="315.00" r="1.5" fill="#0e1428"/>
<text x="420.50" y="322.10" font-size="5.9" fill="#39507a" textLength="82.30" lengthAdjust="spacingAndGlyphs" stroke="#39507a" stroke-width="0.05">−0.07 (−2.16, 2.03); <tspan font-style="italic">P</tspan> = .4568</text>
<text x="433.50" y="347.80" font-size="7.4" text-anchor="middle" fill="#1a1a1a" font-weight="bold" textLength="60.60" lengthAdjust="spacingAndGlyphs">Adjusted mean (95% CI)</text>
<text x="8.60" y="373.80" font-size="10.5" fill="#111" font-weight="bold" stroke="#111" stroke-width="0.45">C</text>
<text x="25.80" y="373.80" font-size="9.4" fill="#1a1a1a" textLength="119.00" lengthAdjust="spacingAndGlyphs" stroke="#1a1a1a" stroke-width="0.18">Defense and immune response</text>
<text x="85.50" y="386.80" font-size="5.9" text-anchor="middle" fill="#2a2a2a" stroke="#2a2a2a" stroke-width="0.1">Month 3</text>
<line x1="78.70" y1="391.80" x2="78.70" y2="431.00" stroke="#e3a2b0" stroke-width="2"/>
<line x1="39.80" y1="391.80" x2="39.80" y2="431.70" stroke="#141414" stroke-width="1.4"/>
<line x1="39.10" y1="431.00" x2="131.20" y2="431.00" stroke="#141414" stroke-width="1.4"/>
<line x1="36.80" y1="402.10" x2="39.80" y2="402.10" stroke="#141414" stroke-width="1"/>
<line x1="36.80" y1="420.30" x2="39.80" y2="420.30" stroke="#141414" stroke-width="1"/>
<text x="34.00" y="400.10" font-size="6.0" text-anchor="end" fill="#353535" stroke="#353535" stroke-width="0.1">Without</text>
<text x="34.00" y="407.70" font-size="6.0" text-anchor="end" fill="#353535" textLength="27.00" lengthAdjust="spacingAndGlyphs" stroke="#353535" stroke-width="0.1">BL anemia</text>
<text x="34.00" y="418.30" font-size="6.0" text-anchor="end" fill="#353535" stroke="#353535" stroke-width="0.1">With</text>
<text x="34.00" y="425.90" font-size="6.0" text-anchor="end" fill="#353535" textLength="27.00" lengthAdjust="spacingAndGlyphs" stroke="#353535" stroke-width="0.1">BL anemia</text>
<line x1="54.40" y1="431.00" x2="54.40" y2="433.50" stroke="#141414" stroke-width="1"/>
<text x="54.40" y="442.00" font-size="6.0" text-anchor="middle" fill="#2a2a2a" stroke="#2a2a2a" stroke-width="0.18">−0.2</text>
<line x1="78.70" y1="431.00" x2="78.70" y2="433.50" stroke="#141414" stroke-width="1"/>
<text x="78.70" y="442.00" font-size="6.0" text-anchor="middle" fill="#2a2a2a" stroke="#2a2a2a" stroke-width="0.18">0.0</text>
<line x1="103.00" y1="431.00" x2="103.00" y2="433.50" stroke="#141414" stroke-width="1"/>
<text x="103.00" y="442.00" font-size="6.0" text-anchor="middle" fill="#2a2a2a" stroke="#2a2a2a" stroke-width="0.18">0.2</text>
<line x1="127.30" y1="431.00" x2="127.30" y2="433.50" stroke="#141414" stroke-width="1"/>
<text x="127.30" y="442.00" font-size="6.0" text-anchor="middle" fill="#2a2a2a" stroke="#2a2a2a" stroke-width="0.18">0.4</text>
<line x1="78.70" y1="402.10" x2="90.85" y2="402.10" stroke="#b6b6ce" stroke-width="1.0"/>
<circle cx="84.78" cy="402.10" r="1.3" fill="#4a4a6c"/>
<text x="94.60" y="404.20" font-size="5.9" fill="#9696bc" textLength="31.10" lengthAdjust="spacingAndGlyphs" stroke="#9696bc" stroke-width="0.05">0.05 (0,0.1)</text>
<line x1="59.26" y1="420.30" x2="85.99" y2="420.30" stroke="#b0b5bd" stroke-width="1.5"/>
<circle cx="72.62" cy="420.30" r="1.5" fill="#0e1428"/>
<text x="88.50" y="425.00" font-size="5.9" fill="#39507a" stroke="#39507a" stroke-width="0.05">−0.05 (−0.16,0.06); <tspan font-style="italic">P</tspan> = .0967</text>
<text x="85.50" y="453.00" font-size="7.4" text-anchor="middle" fill="#1a1a1a" font-weight="bold" textLength="60.40" lengthAdjust="spacingAndGlyphs">Adjusted mean (95% CI)</text>
<text x="85.50" y="474.50" font-size="5.9" text-anchor="middle" fill="#2a2a2a" stroke="#2a2a2a" stroke-width="0.1">Month 12</text>
<line x1="78.70" y1="478.80" x2="78.70" y2="518.40" stroke="#e3a2b0" stroke-width="2"/>
<line x1="39.80" y1="478.80" x2="39.80" y2="519.10" stroke="#141414" stroke-width="1.4"/>
<line x1="39.10" y1="518.40" x2="131.20" y2="518.40" stroke="#141414" stroke-width="1.4"/>
<line x1="36.80" y1="489.70" x2="39.80" y2="489.70" stroke="#141414" stroke-width="1"/>
<line x1="36.80" y1="507.40" x2="39.80" y2="507.40" stroke="#141414" stroke-width="1"/>
<text x="34.00" y="487.70" font-size="6.0" text-anchor="end" fill="#353535" stroke="#353535" stroke-width="0.1">Without</text>
<text x="34.00" y="495.30" font-size="6.0" text-anchor="end" fill="#353535" textLength="27.00" lengthAdjust="spacingAndGlyphs" stroke="#353535" stroke-width="0.1">BL anemia</text>
<text x="34.00" y="505.40" font-size="6.0" text-anchor="end" fill="#353535" stroke="#353535" stroke-width="0.1">With</text>
<text x="34.00" y="513.00" font-size="6.0" text-anchor="end" fill="#353535" textLength="27.00" lengthAdjust="spacingAndGlyphs" stroke="#353535" stroke-width="0.1">BL anemia</text>
<line x1="54.40" y1="518.40" x2="54.40" y2="520.90" stroke="#141414" stroke-width="1"/>
<text x="54.40" y="529.40" font-size="6.0" text-anchor="middle" fill="#2a2a2a" stroke="#2a2a2a" stroke-width="0.18">−0.2</text>
<line x1="78.70" y1="518.40" x2="78.70" y2="520.90" stroke="#141414" stroke-width="1"/>
<text x="78.70" y="529.40" font-size="6.0" text-anchor="middle" fill="#2a2a2a" stroke="#2a2a2a" stroke-width="0.18">0.0</text>
<line x1="103.00" y1="518.40" x2="103.00" y2="520.90" stroke="#141414" stroke-width="1"/>
<text x="103.00" y="529.40" font-size="6.0" text-anchor="middle" fill="#2a2a2a" stroke="#2a2a2a" stroke-width="0.18">0.2</text>
<line x1="127.30" y1="518.40" x2="127.30" y2="520.90" stroke="#141414" stroke-width="1"/>
<text x="127.30" y="529.40" font-size="6.0" text-anchor="middle" fill="#2a2a2a" stroke="#2a2a2a" stroke-width="0.18">0.4</text>
<line x1="87.20" y1="489.70" x2="103.00" y2="489.70" stroke="#b6b6ce" stroke-width="1.0"/>
<circle cx="94.50" cy="489.70" r="1.3" fill="#4a4a6c"/>
<text x="106.20" y="491.80" font-size="5.9" fill="#9696bc" textLength="37.70" lengthAdjust="spacingAndGlyphs" stroke="#9696bc" stroke-width="0.05">0.13 (0.07,0.2)</text>
<line x1="44.68" y1="507.40" x2="81.13" y2="507.40" stroke="#b0b5bd" stroke-width="1.5"/>
<circle cx="62.91" cy="507.40" r="1.5" fill="#0e1428"/>
<text x="86.60" y="513.20" font-size="5.9" fill="#39507a" textLength="79.50" lengthAdjust="spacingAndGlyphs" stroke="#39507a" stroke-width="0.05">−0.13 (−0.28,0.02); <tspan font-style="italic">P</tspan> = .0022</text>
<text x="85.50" y="540.70" font-size="7.4" text-anchor="middle" fill="#1a1a1a" font-weight="bold" textLength="60.40" lengthAdjust="spacingAndGlyphs">Adjusted mean (95% CI)</text>
<text x="182.50" y="374.00" font-size="10.5" fill="#111" font-weight="bold" stroke="#111" stroke-width="0.45">D</text>
<text x="205.10" y="373.90" font-size="9.4" fill="#1a1a1a" textLength="258.40" lengthAdjust="spacingAndGlyphs" stroke="#1a1a1a" stroke-width="0.18">Association of inflammation and erythroid response to canakinumab</text>
<rect x="211.25" y="381.3" width="245.35" height="154.20" fill="#e6e6e8"/>
<polygon points="211.25,426.6 456.6,382.4 456.6,426.8" fill="#963f21" stroke="#fff" stroke-width="0.6"/>
<rect x="211.25" y="426.9" width="245.35" height="1.6" fill="#fbf3f0"/>
<polygon points="211.25,480 456.6,435 456.6,480" fill="#e8ac20" stroke="#fff" stroke-width="0.6"/>
<line x1="293.00" y1="381.30" x2="293.00" y2="535.50" stroke="#9a9a9a" stroke-width="0.7" stroke-dasharray="1.2 1.6"/>
<line x1="374.60" y1="381.30" x2="374.60" y2="535.50" stroke="#9a9a9a" stroke-width="0.7" stroke-dasharray="1.2 1.6"/>
<line x1="456.60" y1="381.30" x2="456.60" y2="535.50" stroke="#9a9a9a" stroke-width="0.7" stroke-dasharray="1.2 1.6"/>
<text x="460.00" y="400.50" font-size="5.7" fill="#3a3a3a" stroke="#3a3a3a" stroke-width="0.1">Erythroid</text>
<text x="460.00" y="407.55" font-size="5.7" fill="#3a3a3a" stroke="#3a3a3a" stroke-width="0.1">response to</text>
<text x="460.00" y="414.60" font-size="5.7" fill="#3a3a3a" stroke="#3a3a3a" stroke-width="0.1">canakinumab</text>
<text x="460.00" y="447.00" font-size="5.7" fill="#3a3a3a" stroke="#3a3a3a" stroke-width="0.1">Inflammation</text>
<text x="460.00" y="454.20" font-size="5.7" fill="#3a3a3a" stroke="#3a3a3a" stroke-width="0.1">and immune</text>
<text x="460.00" y="461.40" font-size="5.7" fill="#3a3a3a" stroke="#3a3a3a" stroke-width="0.1">response to</text>
<text x="460.00" y="468.60" font-size="5.7" fill="#3a3a3a" stroke="#3a3a3a" stroke-width="0.1">inflammation</text>
<defs>
<radialGradient id="cg" cx="0.5" cy="0.5" r="0.5" fx="0.42" fy="0.42">
<stop offset="0" stop-color="#2a64ad"/><stop offset="0.62" stop-color="#2f80c6"/><stop offset="0.8" stop-color="#45a6dc"/><stop offset="0.93" stop-color="#5cc0e8"/><stop offset="1" stop-color="#3a8acb"/></radialGradient>
<linearGradient id="cl" x1="0" y1="0" x2="1" y2="1"><stop offset="0" stop-color="#bff0ff" stop-opacity="0.35"/><stop offset="0.5" stop-color="#ffffff" stop-opacity="0"/><stop offset="1" stop-color="#0a3a80" stop-opacity="0.35"/></linearGradient>
<radialGradient id="ng" cx="0.5" cy="0.5" r="0.5" fx="0.4" fy="0.33">
<stop offset="0" stop-color="#f86a78"/><stop offset="0.55" stop-color="#e8202f"/><stop offset="1" stop-color="#c81428"/></radialGradient>
</defs>
<circle cx="252.0" cy="496.7" r="12.6" fill="#f6fbff" opacity="0.8"/>
<circle cx="252.0" cy="496.7" r="11.3" fill="url(#cg)"/>
<circle cx="252.0" cy="496.7" r="11.3" fill="url(#cl)"/>
<circle cx="252.3" cy="497.3" r="7.9" fill="#1d4f96" opacity="0.45"/>
<circle cx="252.3" cy="497.3" r="6.9" fill="url(#ng)"/>
<circle cx="333.0" cy="496.7" r="12.6" fill="#f6fbff" opacity="0.8"/>
<circle cx="333.0" cy="496.7" r="11.3" fill="url(#cg)"/>
<circle cx="333.0" cy="496.7" r="11.3" fill="url(#cl)"/>
<circle cx="333.3" cy="497.3" r="7.9" fill="#1d4f96" opacity="0.45"/>
<circle cx="333.3" cy="497.3" r="6.9" fill="url(#ng)"/>
<circle cx="416.8" cy="496.7" r="12.6" fill="#f6fbff" opacity="0.8"/>
<circle cx="416.8" cy="496.7" r="11.3" fill="url(#cg)"/>
<circle cx="416.8" cy="496.7" r="11.3" fill="url(#cl)"/>
<circle cx="417.1" cy="497.3" r="7.9" fill="#1d4f96" opacity="0.45"/>
<circle cx="417.1" cy="497.3" r="6.9" fill="url(#ng)"/>
<text x="254.50" y="519.60" font-size="5.8" text-anchor="middle" fill="#333" stroke="#333" stroke-width="0.12">No CH mutations</text>
<text x="333.40" y="519.60" font-size="5.8" text-anchor="middle" fill="#333" stroke="#333" stroke-width="0.12">CH mutations without</text>
<text x="333.40" y="526.60" font-size="5.8" text-anchor="middle" fill="#333" stroke="#333" stroke-width="0.12">anemia (CHIP)</text>
<text x="415.00" y="519.60" font-size="5.8" text-anchor="middle" fill="#333" stroke="#333" stroke-width="0.12">CH mutations and</text>
<text x="415.00" y="526.60" font-size="5.8" text-anchor="middle" fill="#333" stroke="#333" stroke-width="0.12">anemia (CCUS)</text>
</svg><div id="bd"></div></div></body></html>
